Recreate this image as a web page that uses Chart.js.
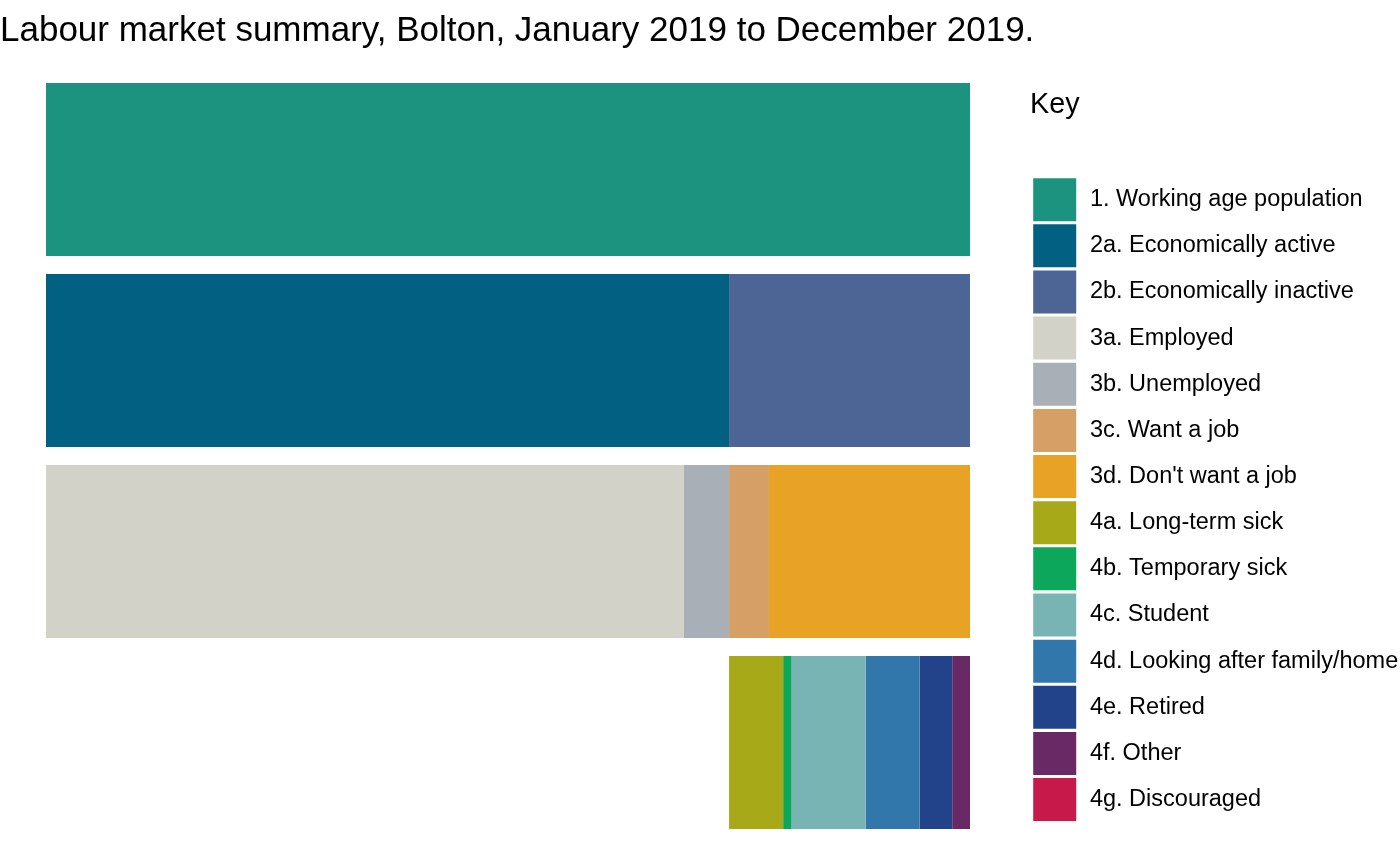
<!DOCTYPE html>
<html>
<head>
<meta charset="utf-8">
<script src="https://cdn.jsdelivr.net/npm/chart.js@4/dist/chart.umd.min.js"></script>
<style>
  html, body { margin: 0; padding: 0; background: #ffffff; }
  #wrap { width: 1400px; height: 865px; overflow: hidden; }
</style>
</head>
<body>
<div id="wrap"><canvas id="c" width="1400" height="865"></canvas></div>
<script>
// Rows of the chart (hidden category axis)
const rowLabels = ['Working age population', 'Economic activity', 'Employment status', 'Reasons for inactivity'];

// Values (people)
const workingAge = [176000];
const activityNames = ['2a. Economically active', '2b. Economically inactive'];
const activityValues = [130100, 45900];
const statusNames = ['3a. Employed', '3b. Unemployed', "3c. Want a job", "3d. Don't want a job"];
const statusValues = [121500, 8600, 7600, 38300];
const reasonNames = ['4a. Long-term sick', '4b. Temporary sick', '4c. Student', '4d. Looking after family/home', '4e. Retired', '4f. Other', '4g. Discouraged'];
const reasonValues = [10300, 1600, 14100, 10300, 6200, 3400, 0];

const colours = {
  '1. Working age population': '#1c937e',
  '2a. Economically active': '#026183',
  '2b. Economically inactive': '#4d6594',
  '3a. Employed': '#d2d2c9',
  '3b. Unemployed': '#a8afb7',
  '3c. Want a job': '#d59f66',
  "3d. Don't want a job": '#e8a226',
  '4a. Long-term sick': '#a8a918',
  '4b. Temporary sick': '#0ca75a',
  '4c. Student': '#78b4b3',
  '4d. Looking after family/home': '#3277ac',
  '4e. Retired': '#224389',
  '4f. Other': '#692964',
  '4g. Discouraged': '#c8194b'
};

function rowData(rowIndex, value) {
  const d = rowLabels.map(() => null);
  d[rowIndex] = value;
  return d;
}

const OFFSET = '__offset';
const datasets = [];
// transparent offset so reasons for inactivity start where the economically active end
datasets.push({ label: OFFSET, data: rowData(3, activityValues[0]), backgroundColor: 'rgba(0,0,0,0)' });
datasets.push({ label: '1. Working age population', data: rowData(0, workingAge[0]) });
activityNames.forEach((n, i) => datasets.push({ label: n, data: rowData(1, activityValues[i]) }));
statusNames.forEach((n, i) => datasets.push({ label: n, data: rowData(2, statusValues[i]) }));
reasonNames.forEach((n, i) => datasets.push({ label: n, data: rowData(3, reasonValues[i]) }));
datasets.forEach(ds => {
  if (ds.label !== OFFSET) ds.backgroundColor = colours[ds.label];
  ds.borderWidth = 0;
  ds.barPercentage = 0.905;
  ds.categoryPercentage = 1.0;
  ds.stack = 's';
});

const FONT = '"Liberation Sans", Arial, sans-serif';

new Chart(document.getElementById('c'), {
  type: 'bar',
  data: { labels: rowLabels, datasets: datasets },
  options: {
    indexAxis: 'y',
    responsive: false,
    animation: false,
    devicePixelRatio: 1,
    layout: { padding: { left: 0, right: -8.2, top: 0, bottom: 27 } },
    scales: {
      x: { type: 'linear', stacked: true, min: 0, max: workingAge[0], display: false },
      y: {
        type: 'category', stacked: true, position: 'left', offset: true,
        ticks: { display: false }, grid: { display: false, drawTicks: false }, border: { display: false },
        afterFit: (s) => { s.width = 46; }
      },
      y2: {
        type: 'category', position: 'right', offset: true,
        ticks: { display: false }, grid: { display: false, drawTicks: false }, border: { display: false },
        afterFit: (s) => { s.width = 60; }
      }
    },
    plugins: {
      title: {
        display: true,
        text: 'Labour market summary, Bolton, January 2019 to December 2019.',
        align: 'start',
        color: '#000000',
        font: { family: FONT, size: 35, weight: 'normal' },
        padding: { top: 10, bottom: 22 }
      },
      legend: {
        display: true,
        position: 'right',
        align: 'start',
        fullSize: false,
        maxWidth: 420,
        title: {
          display: true,
          text: 'Key',
          position: 'start',
          color: '#000000',
          font: { family: FONT, size: 28.75, weight: 'normal' },
          padding: { top: 16.5, bottom: 50 }
        },
        labels: {
          color: '#000000',
          font: { family: FONT, size: 23.5 },
          boxWidth: 43,
          boxHeight: 43,
          padding: 3.15,
          filter: (item) => item.datasetIndex !== 0,
          generateLabels: (chart) => {
            const items = Chart.defaults.plugins.legend.labels.generateLabels(chart);
            items.forEach(it => { it.text = '\u200A' + it.text; });
            return items;
          }
        }
      },
      tooltip: { enabled: false }
    }
  }
});
</script>
</body>
</html>
